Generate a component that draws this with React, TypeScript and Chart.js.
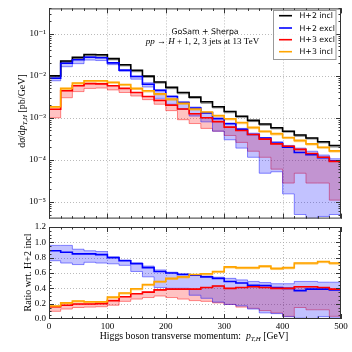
import React, { useEffect, useRef } from "react";
import { Chart, registerables } from "chart.js";
Chart.register(...registerables);

// ---------- data ----------
const binEdges = [0, 20, 40, 60, 80, 100, 120, 140, 160, 180, 200, 220, 240, 260, 280, 300, 320, 340, 360, 380, 400, 420, 440, 460, 480, 500];
const xTickValues = [0, 100, 200, 300, 400, 500];
const mainYTickValues = [1e-5, 1e-4, 1e-3, 1e-2, 1e-1];
const ratioYTickValues = [0, 0.2, 0.4, 0.6, 0.8, 1.0, 1.2];
const seriesNames = ["H+2 incl", "H+2 excl", "H+3 excl", "H+3 incl"];
const seriesColors = ["#000000", "#0000ff", "#ff0000", "#ffa500"];

// main panel: dsigma/dpT [pb/GeV]
const h2incl = [0.0100, 0.0225, 0.0273, 0.0319, 0.0315, 0.0255, 0.0183, 0.0134, 0.0098, 0.0071, 0.0053, 0.0040, 0.0031, 0.0024, 0.00183, 0.00141, 0.00109, 0.00087, 0.00071, 0.00058, 0.00048, 0.00039, 0.00033, 0.00027, 0.00022];
const h2inclLow = [0.0092, 0.0208, 0.0254, 0.0297, 0.0292, 0.0236, 0.0170, 0.0124, 0.0091, 0.0066, 0.0049, 0.0037, 0.0029, 0.0022, 0.00170, 0.00131, 0.00101, 0.00081, 0.00066, 0.00054, 0.00045, 0.00036, 0.00031, 0.00025, 0.00020];
const h2excl = [0.0087, 0.0198, 0.0240, 0.0275, 0.0268, 0.0202, 0.0135, 0.0096, 0.0063, 0.0045, 0.0032, 0.0023, 0.00170, 0.00131, 0.00095, 0.00072, 0.00053, 0.00040, 0.00033, 0.00025, 0.00020, 0.000150, 0.000133, 0.000113, 0.000095];
const h2exclHigh = [0.0096, 0.0216, 0.0248, 0.0284, 0.0277, 0.0207, 0.0141, 0.0098, 0.0068, 0.0046, 0.0033, 0.0024, 0.0018, 0.00136, 0.00100, 0.00075, 0.00056, 0.00043, 0.00034, 0.00027, 0.00022, 0.00019, 0.00016, 0.00013, 0.000106];
const h2exclLow = [0.0076, 0.0164, 0.0194, 0.0236, 0.0230, 0.0184, 0.0128, 0.0083, 0.0054, 0.0029, 0.0021, 0.0016, 0.0011, 0.0008, 0.00048, 0.00030, 0.00019, 0.000115, 0.000048, 0.000052, 0.0000155, 0.000005, 0.000003, 0.0000045, 0.000005];
const h3excl = [0.00160, 0.0044, 0.0058, 0.0065, 0.0064, 0.0058, 0.0050, 0.0040, 0.0032, 0.0026, 0.0020, 0.00162, 0.00125, 0.00100, 0.00081, 0.00060, 0.00050, 0.00040, 0.00031, 0.00024, 0.00021, 0.000177, 0.000141, 0.000115, 0.000092];
const h3exclLow = [0.00100, 0.0030, 0.0042, 0.0050, 0.0051, 0.0046, 0.0040, 0.0033, 0.0027, 0.0021, 0.00148, 0.00090, 0.00073, 0.00056, 0.00048, 0.00038, 0.00026, 0.00016, 0.000115, 0.000060, 0.000028, 0.000048, 0.000028, 0.000028, 0.000011];
const h3incl = [0.00183, 0.0050, 0.0067, 0.0076, 0.0076, 0.0070, 0.0062, 0.0050, 0.0044, 0.0037, 0.0028, 0.0022, 0.00162, 0.00137, 0.00113, 0.00095, 0.00077, 0.00059, 0.00048, 0.00042, 0.00034, 0.00029, 0.00024, 0.00020, 0.000163];
const h3inclLow = [0.00172, 0.0047, 0.0063, 0.0071, 0.0071, 0.0066, 0.0058, 0.0047, 0.0041, 0.0035, 0.0026, 0.0021, 0.00152, 0.00129, 0.00106, 0.00089, 0.00072, 0.00055, 0.00045, 0.00039, 0.00032, 0.00027, 0.000225, 0.000188, 0.000153];

// ratio panel: ratio wrt. H+2 incl
const ratioH2excl = [0.89, 0.87, 0.85, 0.85, 0.84, 0.80, 0.76, 0.72, 0.67, 0.62, 0.60, 0.58, 0.57, 0.55, 0.53, 0.49, 0.47, 0.44, 0.435, 0.41, 0.40, 0.37, 0.39, 0.39, 0.38];
const ratioH2exclHigh = [0.96, 0.96, 0.91, 0.89, 0.88, 0.81, 0.77, 0.735, 0.69, 0.64, 0.61, 0.59, 0.58, 0.56, 0.545, 0.53, 0.51, 0.49, 0.475, 0.46, 0.46, 0.49, 0.49, 0.48, 0.48];
const ratioH2exclLow = [0.76, 0.73, 0.71, 0.74, 0.73, 0.72, 0.70, 0.62, 0.55, 0.41, 0.40, 0.40, 0.31, 0.27, 0.22, 0.19, 0.17, 0.13, 0.08, 0.07, 0.03, 0.01, 0.0, 0.03, 0.01];
const ratioH3excl = [0.16, 0.18, 0.195, 0.195, 0.20, 0.24, 0.29, 0.33, 0.35, 0.38, 0.39, 0.39, 0.39, 0.41, 0.43, 0.40, 0.41, 0.42, 0.41, 0.40, 0.40, 0.42, 0.42, 0.41, 0.39];
const ratioH3exclLow = [0.10, 0.13, 0.15, 0.155, 0.16, 0.18, 0.23, 0.26, 0.28, 0.30, 0.28, 0.26, 0.24, 0.23, 0.21, 0.19, 0.155, 0.14, 0.11, 0.08, 0.035, 0.15, 0.12, 0.12, 0.035];
const ratioH3incl = [0.17, 0.21, 0.235, 0.225, 0.225, 0.285, 0.34, 0.395, 0.45, 0.49, 0.53, 0.55, 0.58, 0.59, 0.62, 0.68, 0.67, 0.67, 0.69, 0.66, 0.67, 0.73, 0.73, 0.75, 0.73];
const ratioH3inclLow = [0.155, 0.195, 0.22, 0.21, 0.21, 0.27, 0.325, 0.38, 0.435, 0.475, 0.515, 0.535, 0.565, 0.575, 0.605, 0.665, 0.655, 0.655, 0.675, 0.645, 0.655, 0.715, 0.715, 0.735, 0.715];

// ---------- styling ----------
const FRAME = "#333333";
const GRID = "#aaaaaa";
const SERIF = "'Liberation Serif', 'DejaVu Serif', serif";
const SANS = "'DejaVu Sans', sans-serif";
const BLUE_FILL = "rgba(0,0,255,0.24)";
const BLUE_EDGE = "rgba(0,0,255,0.45)";
const RED_FILL = "rgba(255,0,0,0.24)";
const RED_EDGE = "rgba(255,0,0,0.45)";
const GRAY_FILL = "rgba(0,0,0,0.25)";
const GRAY_EDGE = "rgba(0,0,0,0.3)";
const ORANGE_FILL = "rgba(255,165,0,0.35)";
const ORANGE_EDGE = "rgba(255,165,0,0.5)";

function steps(values: number[]) {
  const pts = values.map((v, i) => ({ x: binEdges[i], y: v }));
  pts.push({ x: binEdges[binEdges.length - 1], y: values[values.length - 1] });
  return pts;
}

function lineDs(label: string, values: number[], color: string, order: number, yAxisID = "y") {
  return { label, data: steps(values), borderColor: color, borderWidth: 1.6, stepped: "before", pointRadius: 0, fill: false, order, yAxisID };
}

function bandDs(low: number[], high: number[], fillColor: string, edgeColor: string, order: number, yAxisID = "y") {
  return [
    { label: "", data: steps(low), borderColor: edgeColor, borderWidth: 1, stepped: "before", pointRadius: 0, fill: false, order, yAxisID },
    { label: "", data: steps(high), borderColor: edgeColor, borderWidth: 1, stepped: "before", pointRadius: 0, fill: "-1", backgroundColor: fillColor, order, yAxisID },
  ];
}

type Seg = { t: string; it?: boolean; sub?: boolean };
function drawRich(ctx: any, segs: Seg[], x: number, y: number, size: number, family: string, rotate: boolean) {
  ctx.save();
  ctx.translate(x, y);
  if (rotate) ctx.rotate(-Math.PI / 2);
  const fontFor = (s: Seg) => `${s.it ? "italic " : ""}${s.sub ? size * 0.7 : size}px ${family}`;
  let w = 0;
  for (const s of segs) {
    ctx.font = fontFor(s);
    w += ctx.measureText(s.t).width;
  }
  let cx = -w / 2;
  ctx.fillStyle = "#000";
  ctx.textAlign = "left";
  ctx.textBaseline = "alphabetic";
  for (const s of segs) {
    ctx.font = fontFor(s);
    ctx.fillText(s.t, cx, s.sub ? size * 0.22 : 0);
    cx += ctx.measureText(s.t).width;
  }
  ctx.restore();
}

const supMap: Record<string, string> = { "-": "\u207B", "0": "\u2070", "1": "\u00B9", "2": "\u00B2", "3": "\u00B3", "4": "\u2074", "5": "\u2075", "6": "\u2076", "7": "\u2077", "8": "\u2078", "9": "\u2079" };
function powLabel(v: number) {
  const e = Math.round(Math.log10(v));
  return "10" + String(e).split("").map((c) => supMap[c] || c).join("");
}

function makeGridPlugin(yGrid: number[]) {
  return {
    id: "dottedGrid",
    beforeDatasetsDraw(chart: any) {
      const { ctx, chartArea: a, scales } = chart;
      ctx.save();
      ctx.strokeStyle = GRID;
      ctx.lineWidth = 0.8;
      ctx.setLineDash([1, 2]);
      for (const v of xTickValues.slice(1, -1)) {
        const px = Math.round(scales.x.getPixelForValue(v)) + 0.5;
        ctx.beginPath();
        ctx.moveTo(px, a.top);
        ctx.lineTo(px, a.bottom);
        ctx.stroke();
      }
      for (const v of yGrid) {
        const py = Math.round(scales.y.getPixelForValue(v)) + 0.5;
        ctx.beginPath();
        ctx.moveTo(a.left, py);
        ctx.lineTo(a.right, py);
        ctx.stroke();
      }
      ctx.restore();
    },
  };
}

function drawFrame(chart: any, yMajor: number[], yMinor: number[]) {
  const { ctx, chartArea: a, scales } = chart;
  ctx.save();
  ctx.strokeStyle = FRAME;
  ctx.lineWidth = 1;
  ctx.setLineDash([]);
  const vt = (v: number, len: number) => {
    const px = Math.round(scales.x.getPixelForValue(v)) + 0.5;
    ctx.beginPath();
    ctx.moveTo(px, a.bottom);
    ctx.lineTo(px, a.bottom - len);
    ctx.moveTo(px, a.top);
    ctx.lineTo(px, a.top + len);
    ctx.stroke();
  };
  const ht = (v: number, len: number) => {
    const py = Math.round(scales.y.getPixelForValue(v)) + 0.5;
    if (py < a.top || py > a.bottom) return;
    ctx.beginPath();
    ctx.moveTo(a.left, py);
    ctx.lineTo(a.left + len, py);
    ctx.moveTo(a.right, py);
    ctx.lineTo(a.right - len, py);
    ctx.stroke();
  };
  binEdges.forEach((v) => vt(v, 2.5));
  xTickValues.forEach((v) => vt(v, 5));
  yMinor.forEach((v) => ht(v, 2.5));
  yMajor.forEach((v) => ht(v, 5));
  ctx.strokeRect(a.left + 0.5, a.top + 0.5, a.width - 1, a.height - 1);
  ctx.restore();
}

const mainMinor: number[] = [];
for (let e = -6; e <= -1; e++) for (let m = 2; m <= 9; m++) mainMinor.push(m * Math.pow(10, e));
const ratioMinor: number[] = [];
for (let k = 0; k <= 24; k++) ratioMinor.push(k * 0.05);

export default function App() {
  const mainRef = useRef<HTMLCanvasElement>(null);
  const ratioRef = useRef<HTMLCanvasElement>(null);

  useEffect(() => {
    const mainDatasets: any[] = [
      lineDs(seriesNames[3], h3incl, seriesColors[3], 1),
      lineDs(seriesNames[2], h3excl, seriesColors[2], 2),
      lineDs(seriesNames[1], h2excl, seriesColors[1], 3),
      lineDs(seriesNames[0], h2incl, seriesColors[0], 4),
      ...bandDs(h2inclLow, h2incl, GRAY_FILL, GRAY_EDGE, 10),
      ...bandDs(h2exclLow, h2exclHigh, BLUE_FILL, BLUE_EDGE, 11),
      ...bandDs(h3exclLow, h3excl, RED_FILL, RED_EDGE, 12),
      ...bandDs(h3inclLow, h3incl, ORANGE_FILL, ORANGE_EDGE, 9),
    ];

    const mainPlugin = {
      id: "mainDecor",
      afterDraw(chart: any) {
        const { ctx } = chart;
        drawFrame(chart, mainYTickValues, mainMinor);
        drawRich(ctx, [{ t: "d" }, { t: "σ", it: true }, { t: "/d" }, { t: "p", it: true }, { t: "T,H", it: true, sub: true }, { t: " [pb/GeV]" }], 25, 111, 10, SERIF, true);
        ctx.save();
        ctx.fillStyle = "#000";
        ctx.textAlign = "center";
        ctx.font = `7.8px ${SANS}`;
        ctx.fillText("GoSam + Sherpa", 205, 34);
        ctx.restore();
        drawRich(ctx, [{ t: "pp", it: true }, { t: " → " }, { t: "H", it: true }, { t: " + 1, 2, 3 jets at 13 TeV" }], 202.5, 44, 9, SERIF, false);
        ctx.save();
        ctx.fillStyle = "rgba(255,255,255,0.9)";
        ctx.fillRect(273.5, 10.5, 62.5, 49);
        ctx.strokeStyle = "#999";
        ctx.lineWidth = 1;
        ctx.strokeRect(273.5, 10.5, 62.5, 49);
        const ys = [15.7, 28, 39.7, 51.7];
        ctx.font = `7.8px ${SANS}`;
        ctx.textAlign = "left";
        ctx.textBaseline = "middle";
        seriesNames.forEach((n, i) => {
          ctx.strokeStyle = seriesColors[i];
          ctx.lineWidth = 1.6;
          ctx.beginPath();
          ctx.moveTo(279, ys[i]);
          ctx.lineTo(292, ys[i]);
          ctx.stroke();
          ctx.fillStyle = "#000";
          ctx.fillText(n, 299.5, ys[i] + 0.5);
        });
        ctx.restore();
      },
    };

    const main = new Chart(mainRef.current as any, {
      type: "line",
      data: { datasets: mainDatasets },
      options: {
        animation: false,
        responsive: false,
        maintainAspectRatio: false,
        layout: { padding: { top: 6, right: 11, left: 0, bottom: 0 } },
        plugins: { legend: { display: false }, tooltip: { enabled: false } },
        scales: {
          x: { type: "linear", display: false, min: 0, max: 500 },
          y: {
            type: "logarithmic",
            min: 4e-6,
            max: 0.4,
            afterBuildTicks: (s: any) => {
              s.ticks = mainYTickValues.map((v) => ({ value: v }));
            },
            afterFit: (s: any) => {
              s.width = 49;
            },
            grid: { display: false, drawTicks: false },
            border: { display: false },
            ticks: { padding: 3, color: "#000", font: { family: SERIF, size: 9 }, callback: (v: any) => powLabel(Number(v)) },
          },
        },
      } as any,
      plugins: [makeGridPlugin(mainYTickValues), mainPlugin],
    } as any);

    const ratioDatasets: any[] = [
      lineDs(seriesNames[3], ratioH3incl, seriesColors[3], 1),
      lineDs(seriesNames[2], ratioH3excl, seriesColors[2], 2),
      lineDs(seriesNames[1], ratioH2excl, seriesColors[1], 3),
      ...bandDs(ratioH2exclLow, ratioH2exclHigh, BLUE_FILL, BLUE_EDGE, 11),
      ...bandDs(ratioH3exclLow, ratioH3excl, RED_FILL, RED_EDGE, 12),
      ...bandDs(ratioH3inclLow, ratioH3incl, ORANGE_FILL, ORANGE_EDGE, 9),
    ];

    const ratioPlugin = {
      id: "ratioDecor",
      afterDraw(chart: any) {
        const { ctx } = chart;
        drawFrame(chart, ratioYTickValues, ratioMinor);
        drawRich(ctx, [{ t: "Ratio wrt. H+2 incl" }], 31, 57.5, 10, SERIF, true);
        drawRich(ctx, [{ t: "Higgs boson transverse momentum:  " }, { t: "p", it: true }, { t: "T,H", it: true, sub: true }, { t: " [GeV]" }], 194, 124, 9.8, SERIF, false);
      },
    };

    const ratio = new Chart(ratioRef.current as any, {
      type: "line",
      data: { datasets: ratioDatasets },
      options: {
        animation: false,
        responsive: false,
        maintainAspectRatio: false,
        layout: { padding: { top: 12, right: 11, left: 0, bottom: 0 } },
        plugins: { legend: { display: false }, tooltip: { enabled: false } },
        scales: {
          x: {
            type: "linear",
            min: 0,
            max: 500,
            afterBuildTicks: (s: any) => {
              s.ticks = xTickValues.map((v) => ({ value: v }));
            },
            afterFit: (s: any) => {
              s.height = 33;
            },
            grid: { display: false, drawTicks: false },
            border: { display: false },
            ticks: { padding: 2, color: "#000", font: { family: SERIF, size: 9 }, maxRotation: 0, autoSkip: false, callback: (v: any) => String(v) },
          },
          y: {
            type: "linear",
            min: 0,
            max: 1.2,
            afterBuildTicks: (s: any) => {
              s.ticks = ratioYTickValues.map((v) => ({ value: v }));
            },
            afterFit: (s: any) => {
              s.width = 49;
            },
            grid: { display: false, drawTicks: false },
            border: { display: false },
            ticks: { padding: 3, color: "#000", font: { family: SERIF, size: 9 }, callback: (v: any) => Number(v).toFixed(1) },
          },
        },
      } as any,
      plugins: [makeGridPlugin(ratioYTickValues.slice(1, -1)), ratioPlugin],
    } as any);

    return () => {
      main.destroy();
      ratio.destroy();
    };
  }, []);

  return (
    <div style={{ position: "absolute", left: 0, top: 0, width: 352, height: 352, background: "#fff" }}>
      <canvas ref={mainRef} width={352} height={227} style={{ position: "absolute", left: 0, top: 0, width: 352, height: 227 }} />
      <canvas ref={ratioRef} width={352} height={137} style={{ position: "absolute", left: 0, top: 215, width: 352, height: 137 }} />
    </div>
  );
}
